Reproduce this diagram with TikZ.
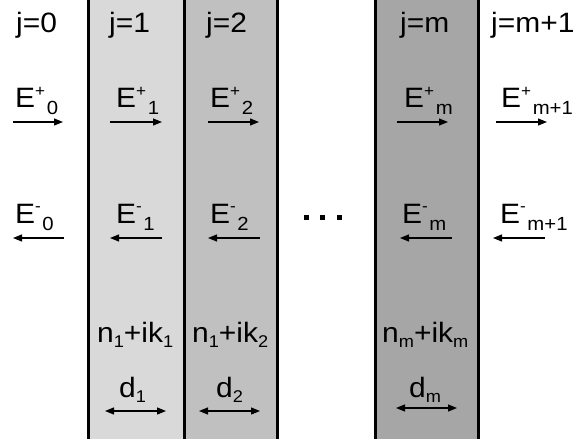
\documentclass[tikz,border=0pt]{standalone}
\usepackage{fontspec}
\setmainfont{Liberation Sans}
\usepackage{graphicx}
\usetikzlibrary{arrows.meta}
\newcommand\wt[1]{\scalebox{1.07}[1]{#1}}
\newcommand\supp[1]{\raisebox{11pt}{\fontsize{16}{16}\selectfont #1}\hspace{1.5pt}}
\newcommand\supm[1]{\raisebox{12pt}{\fontsize{16}{16}\selectfont #1}\hspace{1.5pt}}
\newcommand\subb[1]{\raisebox{-7pt}{\fontsize{19}{19}\selectfont #1}}
\newcommand\subn[1]{\raisebox{-5pt}{\fontsize{17}{17}\selectfont #1}}
\definecolor{layA}{HTML}{D9D9D9}
\definecolor{layB}{HTML}{C0C0C0}
\definecolor{layM}{HTML}{A6A6A6}
\tikzset{
  lab/.style={inner sep=0pt, anchor=base west, font=\fontsize{28}{28}\selectfont},
  wave/.style={line width=1.2pt, -{Triangle[length=9pt,width=7pt]}},
  dwave/.style={line width=1.2pt, {Triangle[length=9pt,width=7pt]}-{Triangle[length=9pt,width=7pt]}},
  iface/.style={line width=3pt},
  dotsq/.style={fill=black, inner sep=0pt, minimum size=5pt, rectangle}
}
\begin{document}
\begin{tikzpicture}[x=1pt,y=-1pt]
\useasboundingbox (0,0) rectangle (576,439);
% layers
\fill[layA] (88,-2) rectangle (184,441);
\fill[layB] (184,-2) rectangle (277,441);
\fill[layM] (375,-2) rectangle (478,441);
\foreach \xx in {88,184,277,375,478} \draw[iface] (\xx,-2) -- (\xx,441);
% j labels
\node[lab] (j0) at (16,32) {\wt{j=0}};
\node[lab] (j1) at (109,32) {\wt{j=1}};
\node[lab] (j2) at (206,32) {\wt{j=2}};
\node[lab] (jm) at (400,32) {\wt{j=m}};
\node[lab] (jm1) at (491,32) {\wt{j=m+1}};
% E+ labels
\node[lab] (ep0) at (15,107) {\wt{E\supp{+}\subb{0}}};
\node[lab] (ep1) at (116,107) {\wt{E\supp{+}\subb{1}}};
\node[lab] (ep2) at (210,107) {\wt{E\supp{+}\subb{2}}};
\node[lab] (epm) at (404,107) {\wt{E\supp{+}\subb{m}}};
\node[lab] (epm1) at (501,107) {\wt{E\supp{+}\subb{m+1}}};
% E- labels
\node[lab] (em0) at (15,223) {\wt{E\supm{-}\subb{0}}};
\node[lab] (em1) at (116,223) {\wt{E\supm{-}\subb{1}}};
\node[lab] (em2) at (210,223) {\wt{E\supm{-}\subb{2}}};
\node[lab] (emm) at (402,223) {\wt{E\supm{-}\subb{m}}};
\node[lab] (emm1) at (500,223) {\wt{E\supm{-}\subb{m+1}}};
% forward arrows
\coordinate (pa0) at (13,122); \coordinate (pb0) at (63,122);
\coordinate (pa1) at (110,122); \coordinate (pb1) at (162,122);
\coordinate (pa2) at (208,122); \coordinate (pb2) at (259,122);
\coordinate (pam) at (397,122); \coordinate (pbm) at (448,122);
\coordinate (pan) at (496,122); \coordinate (pbn) at (547,122);
\foreach \k in {0,1,2,m,n} \draw[wave] (pa\k) -- (pb\k);
% backward arrows
\coordinate (ma0) at (64,238); \coordinate (mb0) at (13,238);
\coordinate (ma1) at (162,238); \coordinate (mb1) at (110,238);
\coordinate (ma2) at (260,238); \coordinate (mb2) at (208,238);
\coordinate (mam) at (452,238); \coordinate (mbm) at (400,238);
\coordinate (man) at (545,238); \coordinate (mbn) at (493,238);
\foreach \k in {0,1,2,m,n} \draw[wave] (ma\k) -- (mb\k);
% dots
\node[dotsq] (dt1) at (306,217) {};
\node[dotsq] (dt2) at (322,217) {};
\node[dotsq] (dt3) at (339,217) {};
% refractive indices
\node[lab] (n1) at (97,342) {\wt{n\subn{1}+ik\subn{1}}};
\node[lab] (n2) at (192,342) {\wt{n\subn{1}+ik\subn{2}}};
\node[lab] (nm) at (382,342) {\wt{n\subn{m}+ik\subn{m}}};
% thickness
\node[lab] (d1) at (119,397) {\wt{d\subn{1}}};
\node[lab] (d2) at (216,397) {\wt{d\subn{2}}};
\node[lab] (dm) at (409,397) {\wt{d\subn{m}}};
\coordinate (da1) at (105,411); \coordinate (db1) at (166,411);
\coordinate (da2) at (199,411); \coordinate (db2) at (260,411);
\coordinate (dam) at (396,408); \coordinate (dbm) at (457,408);
\foreach \k in {1,2,m} \draw[dwave] (da\k) -- (db\k);
\end{tikzpicture}
\end{document}
